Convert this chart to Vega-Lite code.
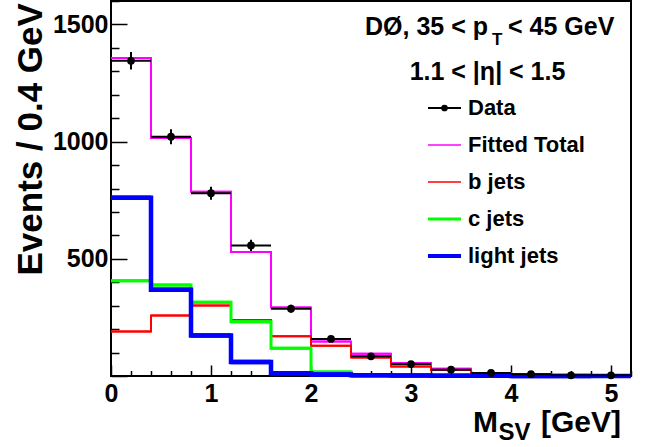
{
  "$schema": "https://vega.github.io/schema/vega-lite/v6.json",
  "width": 520,
  "height": 375,
  "autosize": "none",
  "padding": {"left": 111, "top": 1, "right": 29, "bottom": 71},
  "background": "white",
  "config": {
    "view": {"stroke": "#000000", "strokeWidth": 2},
    "font": "Liberation Sans",
    "text": {"font": "Liberation Sans", "fontWeight": "bold", "color": "black"},
    "axis": {
      "domain": false, "grid": false,
      "labelFont": "Liberation Sans", "labelFontSize": 25, "labelFontWeight": "bold", "labelColor": "black",
      "tickColor": "black", "tickWidth": 1.5,
      "labelOverlap": false, "labelFlush": false
    },
    "axisX": {
      "tickCount": 26,
      "labelExpr": "abs(datum.value - round(datum.value)) < 0.001 ? format(datum.value, 'd') : ''",
      "tickSize": {"expr": "abs(datum.value - round(datum.value)) < 0.001 ? -11 : -5.5"},
      "labelPadding": 36,
      "labelBaseline": "alphabetic"
    },
    "axisY": {
      "tickCount": 16,
      "labelExpr": "datum.value % 500 === 0 && datum.value > 0 ? format(datum.value, 'd') : ''",
      "tickSize": {"expr": "datum.value % 500 === 0 ? -16 : -8"},
      "labelPadding": 19,
      "labelBaseline": "middle"
    }
  },
  "datasets": {
    "bins": [
      {"lo": 0.0, "hi": 0.4, "m": 0.2, "n": 1345, "err": 37, "Fitted Total": 1357, "b jets": 190, "c jets": 406, "light jets": 761},
      {"lo": 0.4, "hi": 0.8, "m": 0.6, "n": 1021, "err": 32, "Fitted Total": 1016, "b jets": 258, "c jets": 388, "light jets": 368},
      {"lo": 0.8, "hi": 1.2, "m": 1.0, "n": 780, "err": 28, "Fitted Total": 786, "b jets": 301, "c jets": 315, "light jets": 173},
      {"lo": 1.2, "hi": 1.6, "m": 1.4, "n": 557, "err": 24, "Fitted Total": 529, "b jets": 239, "c jets": 231, "light jets": 60},
      {"lo": 1.6, "hi": 2.0, "m": 1.8, "n": 287, "err": 17, "Fitted Total": 292, "b jets": 170, "c jets": 118, "light jets": 12},
      {"lo": 2.0, "hi": 2.4, "m": 2.2, "n": 158, "err": 13, "Fitted Total": 147, "b jets": 129, "c jets": 17, "light jets": 6},
      {"lo": 2.4, "hi": 2.8, "m": 2.6, "n": 84, "err": 9, "Fitted Total": 95, "b jets": 79, "c jets": 4, "light jets": 3},
      {"lo": 2.8, "hi": 3.2, "m": 3.0, "n": 51, "err": 7, "Fitted Total": 55, "b jets": 41, "c jets": 2, "light jets": 2},
      {"lo": 3.2, "hi": 3.6, "m": 3.4, "n": 27, "err": 5, "Fitted Total": 31, "b jets": 26, "c jets": 1, "light jets": 1},
      {"lo": 3.6, "hi": 4.0, "m": 3.8, "n": 13, "err": 4, "Fitted Total": 13, "b jets": 11, "c jets": 0, "light jets": 1},
      {"lo": 4.0, "hi": 4.4, "m": 4.2, "n": 8, "err": 3, "Fitted Total": 7, "b jets": 5, "c jets": 0, "light jets": 0},
      {"lo": 4.4, "hi": 4.8, "m": 4.6, "n": 3, "err": 2, "Fitted Total": 3, "b jets": 2, "c jets": 0, "light jets": 0},
      {"lo": 4.8, "hi": 5.2, "m": 5.0, "n": 3, "err": 2, "Fitted Total": 2, "b jets": 1, "c jets": 0, "light jets": 0}
    ],
    "legend": [
      {"label": "Data"},
      {"label": "Fitted Total"},
      {"label": "b jets"},
      {"label": "c jets"},
      {"label": "light jets"}
    ]
  },
  "layer": [
    {
      "data": {"name": "bins"},
      "layer": [
        {
          "mark": {"type": "rule", "color": "#ff00ff", "strokeWidth": 2},
          "encoding": {
            "x": {"field": "lo", "type": "quantitative", "title": null, "scale": {"domain": [0, 5.2], "nice": false, "zero": false}},
            "x2": {"field": "hi"},
            "y": {"field": "Fitted Total", "type": "quantitative", "title": null, "scale": {"domain": [0, 1600], "nice": false, "zero": true}}
          }
        },
        {
          "mark": {"type": "line", "color": "#ff00ff", "strokeWidth": 2, "interpolate": "step-after"},
          "encoding": {
            "x": {"field": "lo", "type": "quantitative", "title": null},
            "y": {"field": "Fitted Total", "type": "quantitative", "title": null}
          }
        },
        {
          "mark": {"type": "rule", "color": "#ff0000", "strokeWidth": 2},
          "encoding": {
            "x": {"field": "lo", "type": "quantitative", "title": null},
            "x2": {"field": "hi"},
            "y": {"field": "b jets", "type": "quantitative", "title": null}
          }
        },
        {
          "mark": {"type": "line", "color": "#ff0000", "strokeWidth": 2, "interpolate": "step-after"},
          "encoding": {
            "x": {"field": "lo", "type": "quantitative", "title": null},
            "y": {"field": "b jets", "type": "quantitative", "title": null}
          }
        },
        {
          "mark": {"type": "rule", "color": "#00ff00", "strokeWidth": 3},
          "encoding": {
            "x": {"field": "lo", "type": "quantitative", "title": null},
            "x2": {"field": "hi"},
            "y": {"field": "c jets", "type": "quantitative", "title": null}
          }
        },
        {
          "mark": {"type": "line", "color": "#00ff00", "strokeWidth": 3, "interpolate": "step-after"},
          "encoding": {
            "x": {"field": "lo", "type": "quantitative", "title": null},
            "y": {"field": "c jets", "type": "quantitative", "title": null}
          }
        },
        {
          "mark": {"type": "rule", "color": "#0000ff", "strokeWidth": 4.5},
          "encoding": {
            "x": {"field": "lo", "type": "quantitative", "title": null},
            "x2": {"field": "hi"},
            "y": {"field": "light jets", "type": "quantitative", "title": null}
          }
        },
        {
          "mark": {"type": "line", "color": "#0000ff", "strokeWidth": 4.5, "interpolate": "step-after"},
          "encoding": {
            "x": {"field": "lo", "type": "quantitative", "title": null},
            "y": {"field": "light jets", "type": "quantitative", "title": null}
          }
        },
        {
          "mark": {"type": "rule", "color": "black", "strokeWidth": 2},
          "encoding": {
            "x": {"field": "lo", "type": "quantitative", "title": null},
            "x2": {"field": "hi"},
            "y": {"field": "n", "type": "quantitative", "title": null}
          }
        },
        {
          "mark": {"type": "errorbar", "color": "black", "thickness": 2},
          "encoding": {
            "x": {"field": "m", "type": "quantitative", "title": null},
            "y": {"field": "n", "type": "quantitative", "title": null},
            "yError": {"field": "err"}
          }
        },
        {
          "mark": {"type": "point", "filled": true, "color": "black", "opacity": 1, "size": 60},
          "encoding": {
            "x": {"field": "m", "type": "quantitative", "title": null},
            "y": {"field": "n", "type": "quantitative", "title": null}
          }
        },
        {
          "data": {"values": [{"t": "Events / 0.4 GeV"}]},
          "mark": {"type": "text", "align": "right", "baseline": "alphabetic", "angle": 270, "fontSize": 35, "fontWeight": "bold", "font": "Liberation Sans"},
          "encoding": {"x": {"datum": -0.69, "title": null}, "y": {"datum": 1591, "title": null}, "text": {"field": "t"}}
        },
        {
          "data": {"values": [{"t": "DØ, 35 < p"}]},
          "mark": {"type": "text", "align": "right", "baseline": "alphabetic", "fontSize": 25, "fontWeight": "bold", "font": "Liberation Sans"},
          "encoding": {"x": {"datum": 3.77, "title": null}, "y": {"datum": 1455, "title": null}, "text": {"field": "t"}}
        },
        {
          "data": {"values": [{"t": "T"}]},
          "mark": {"type": "text", "align": "left", "baseline": "alphabetic", "fontSize": 17, "fontWeight": "bold", "font": "Liberation Sans"},
          "encoding": {"x": {"datum": 3.81, "title": null}, "y": {"datum": 1412, "title": null}, "text": {"field": "t"}}
        },
        {
          "data": {"values": [{"t": "< 45 GeV"}]},
          "mark": {"type": "text", "align": "left", "baseline": "alphabetic", "fontSize": 25, "fontWeight": "bold", "font": "Liberation Sans"},
          "encoding": {"x": {"datum": 3.97, "title": null}, "y": {"datum": 1455, "title": null}, "text": {"field": "t"}}
        },
        {
          "data": {"values": [{"t": "1.1 < |η| < 1.5"}]},
          "mark": {"type": "text", "align": "center", "baseline": "alphabetic", "fontSize": 25, "fontWeight": "bold", "font": "Liberation Sans"},
          "encoding": {"x": {"datum": 3.765, "title": null}, "y": {"datum": 1263, "title": null}, "text": {"field": "t"}}
        },
        {
          "data": {"values": [{"t": "M"}]},
          "mark": {"type": "text", "align": "left", "baseline": "alphabetic", "fontSize": 30, "fontWeight": "bold", "font": "Liberation Sans"},
          "encoding": {"x": {"datum": 3.62, "title": null}, "y": {"datum": -238, "title": null}, "text": {"field": "t"}}
        },
        {
          "data": {"values": [{"t": "SV"}]},
          "mark": {"type": "text", "align": "left", "baseline": "alphabetic", "fontSize": 24, "fontWeight": "bold", "font": "Liberation Sans"},
          "encoding": {"x": {"datum": 3.875, "title": null}, "y": {"datum": -275, "title": null}, "text": {"field": "t"}}
        },
        {
          "data": {"values": [{"t": "[GeV]"}]},
          "mark": {"type": "text", "align": "left", "baseline": "alphabetic", "fontSize": 30, "fontWeight": "bold", "font": "Liberation Sans"},
          "encoding": {"x": {"datum": 4.3, "title": null}, "y": {"datum": -238, "title": null}, "text": {"field": "t"}}
        }
      ]
    },
    {
      "data": {"name": "legend"},
      "encoding": {
        "y": {
          "field": "label", "type": "nominal",
          "scale": {"type": "point", "domain": ["Data", "Fitted Total", "b jets", "c jets", "light jets"], "range": [107, 255], "padding": 0},
          "axis": null
        }
      },
      "layer": [
        {
          "mark": {"type": "text", "align": "left", "baseline": "middle", "fontSize": 22, "fontWeight": "bold", "font": "Liberation Sans"},
          "encoding": {"x": {"datum": 3.57, "title": null}, "text": {"field": "label"}}
        },
        {
          "transform": [{"filter": "datum.label === 'Data'"}],
          "mark": {"type": "rule", "color": "black", "strokeWidth": 2},
          "encoding": {"x": {"datum": 3.17, "title": null}, "x2": {"datum": 3.5}}
        },
        {
          "transform": [{"filter": "datum.label === 'Data'"}],
          "mark": {"type": "point", "filled": true, "color": "black", "opacity": 1, "size": 45},
          "encoding": {"x": {"datum": 3.335, "title": null}}
        },
        {
          "transform": [{"filter": "datum.label === 'Fitted Total'"}],
          "mark": {"type": "rule", "color": "#ff00ff", "strokeWidth": 1.5},
          "encoding": {"x": {"datum": 3.17, "title": null}, "x2": {"datum": 3.5}}
        },
        {
          "transform": [{"filter": "datum.label === 'b jets'"}],
          "mark": {"type": "rule", "color": "#ff0000", "strokeWidth": 1.5},
          "encoding": {"x": {"datum": 3.17, "title": null}, "x2": {"datum": 3.5}}
        },
        {
          "transform": [{"filter": "datum.label === 'c jets'"}],
          "mark": {"type": "rule", "color": "#00ff00", "strokeWidth": 3},
          "encoding": {"x": {"datum": 3.17, "title": null}, "x2": {"datum": 3.5}}
        },
        {
          "transform": [{"filter": "datum.label === 'light jets'"}],
          "mark": {"type": "rule", "color": "#0000ff", "strokeWidth": 4},
          "encoding": {"x": {"datum": 3.17, "title": null}, "x2": {"datum": 3.5}}
        }
      ]
    }
  ],
  "resolve": {"scale": {"y": "independent"}}
}
